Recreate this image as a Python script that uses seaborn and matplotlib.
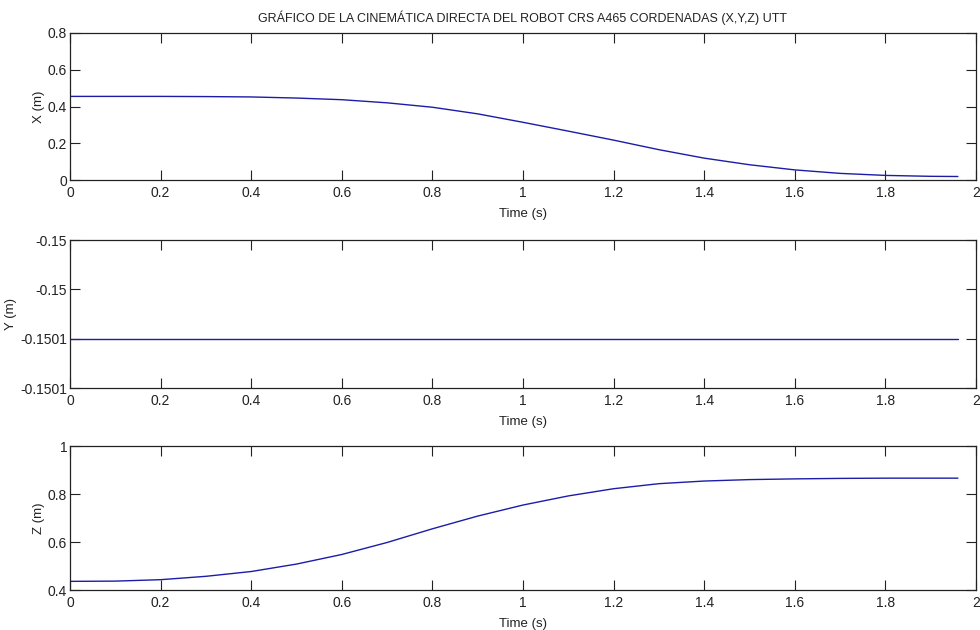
import matplotlib
matplotlib.use("Agg")
import matplotlib.pyplot as plt
import matplotlib.ticker as mticker
import seaborn as sns
import pandas as pd

# Data (time in s, positions in m)
time_s = [0.0, 0.1, 0.2, 0.3, 0.4, 0.5, 0.6, 0.7, 0.8, 0.9, 1.0,
          1.1, 1.2, 1.3, 1.4, 1.5, 1.6, 1.7, 1.8, 1.9, 1.96]
x_pos = [0.455, 0.455, 0.455, 0.454, 0.452, 0.446, 0.437, 0.420, 0.396, 0.360, 0.314,
         0.266, 0.217, 0.165, 0.119, 0.083, 0.055, 0.036, 0.025, 0.020, 0.019]
y_pos = [-0.15006] * len(time_s)
z_pos = [0.436, 0.437, 0.443, 0.457, 0.477, 0.508, 0.548, 0.598, 0.655, 0.708, 0.754,
         0.792, 0.822, 0.843, 0.854, 0.860, 0.863, 0.865, 0.866, 0.866, 0.866]

x_ticks = [0, 0.2, 0.4, 0.6, 0.8, 1.0, 1.2, 1.4, 1.6, 1.8, 2.0]
x_ticks_y = [0, 0.2, 0.4, 0.6, 0.8]
y_ticks_y = [-0.15008, -0.15006, -0.15004, -0.15002]
z_ticks_y = [0.4, 0.6, 0.8, 1.0]

title = "GRÁFICO DE LA CINEMÁTICA DIRECTA DEL ROBOT CRS A465 CORDENADAS (X,Y,Z) UTT"

df = pd.DataFrame({"t": time_s, "X": x_pos, "Y": y_pos, "Z": z_pos})

sns.set_style("ticks")
plt.rcParams["font.family"] = ["Liberation Sans Narrow", "Liberation Sans", "DejaVu Sans"]
plt.rcParams["font.size"] = 10

line_color = "#1c1ca8"

fig = plt.figure(figsize=(9.8, 6.3), dpi=100)
left, width = 70 / 980, 906 / 980
# (column, y label, top px, bottom px, y ticks, y limits, format, y label px)
panels = [
    ("X", "X (m)", 33, 180, x_ticks_y, (0, 0.8), "%g", 45),
    ("Y", "Y (m)", 240, 388, y_ticks_y, (-0.15008, -0.15002), "%.4g", 17),
    ("Z", "Z (m)", 446, 590, z_ticks_y, (0.4, 1.0), "%g", 45),
]

for i, (col, ylab, top_px, bot_px, yt, ylim, fmt, ylab_px) in enumerate(panels):
    ax = fig.add_axes([left, (630 - bot_px) / 630, width, (bot_px - top_px) / 630])
    sns.lineplot(data=df, x="t", y=col, ax=ax, color=line_color, linewidth=1.0)
    ax.set_xlim(0, 2)
    ax.set_ylim(*ylim)
    ax.set_xticks(x_ticks)
    ax.set_yticks(yt)
    ax.xaxis.set_major_formatter(mticker.FormatStrFormatter("%g"))
    ax.yaxis.set_major_formatter(mticker.FormatStrFormatter(fmt))
    ax.tick_params(direction="in", length=7, width=0.8, top=True, right=True,
                   labelsize=10, colors="#222222", pad=2)
    ax.tick_params(axis="x", pad=4)
    for s in ax.spines.values():
        s.set_linewidth(0.9)
        s.set_color("#222222")
    ax.set_xlabel("Time (s)", fontsize=9.5, labelpad=6, color="#222222")
    ax.set_ylabel(ylab, fontsize=9.5, color="#222222")
    # place y label at the same pixel column as in the reference
    ax.yaxis.set_label_coords((ylab_px - 70) / 906, 0.5)
    if i == 0:
        ax.set_title(title, fontsize=9, pad=8, color="#222222")

fig.savefig("out.png", dpi=100)
plt.close(fig)
